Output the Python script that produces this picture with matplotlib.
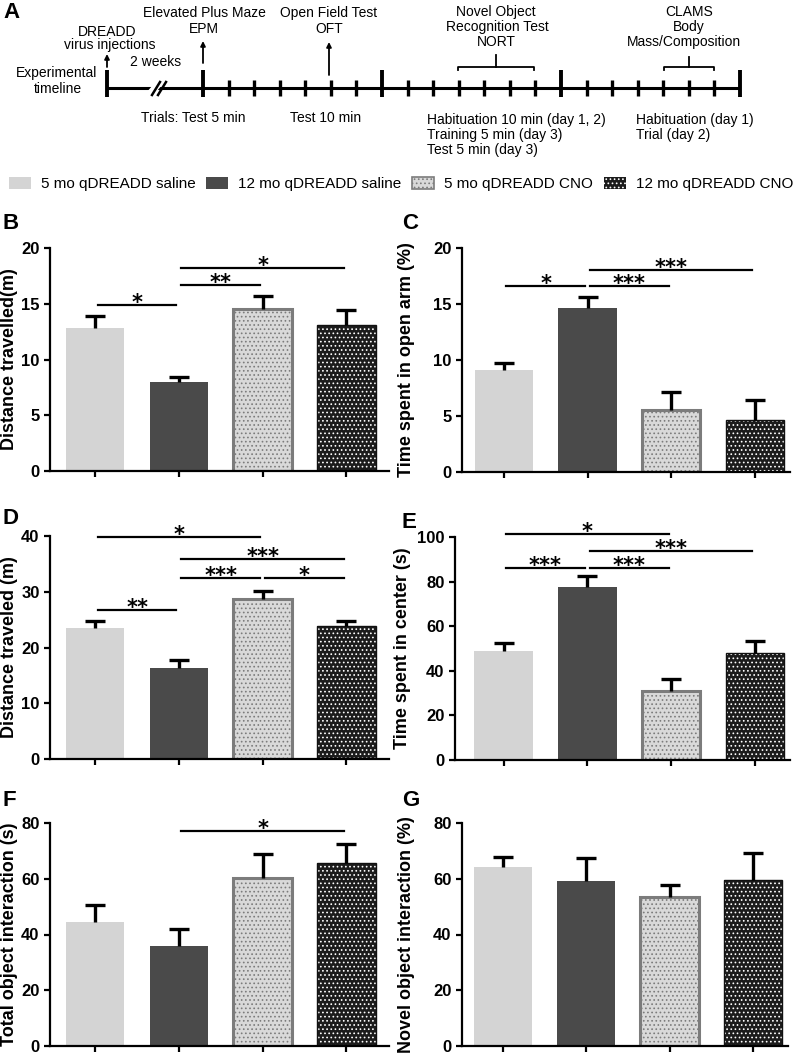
import matplotlib
matplotlib.use("Agg")
import matplotlib.pyplot as plt
from matplotlib.patches import Patch
import numpy as np

plt.rcParams['font.family'] = ['Liberation Sans', 'DejaVu Sans']
plt.rcParams['hatch.linewidth'] = 0.7

# Groups
groups = ['5 mo qDREADD saline', '12 mo qDREADD saline', '5 mo qDREADD CNO', '12 mo qDREADD CNO']

# Panel data (mean, sem)
b_mean = [12.8, 7.95, 14.5, 13.1]
b_sem = [1.1, 0.5, 1.2, 1.3]
c_mean = [9.1, 14.6, 5.5, 4.65]
c_sem = [0.65, 1.05, 1.6, 1.8]
d_mean = [23.5, 16.3, 28.7, 23.8]
d_sem = [1.3, 1.5, 1.4, 0.9]
e_mean = [48.9, 77.5, 30.9, 47.8]
e_sem = [3.4, 4.9, 5.3, 5.4]
f_mean = [44.4, 35.8, 60.2, 65.7]
f_sem = [6.2, 6.1, 8.6, 6.6]
g_mean = [64.1, 59.3, 53.4, 59.6]
g_sem = [3.8, 8.2, 4.3, 9.7]

# significance bars: (group i, group j, height, label)
b_sig = [(0, 1, 14.9, '*'), (1, 2, 16.7, '**'), (1, 3, 18.2, '*')]
c_sig = [(0, 1, 16.6, '*'), (1, 2, 16.6, '***'), (1, 3, 18.05, '***')]
d_sig = [(0, 2, 39.9, '*'), (1, 3, 35.9, '***'), (1, 2, 32.5, '***'),
         (2, 3, 32.5, '*'), (0, 1, 26.8, '**')]
e_sig = [(0, 2, 101.5, '*'), (1, 3, 93.9, '***'), (0, 1, 86.3, '***'), (1, 2, 86.3, '***')]
f_sig = [(1, 3, 77.1, '*')]
g_sig = []

W, H = 800, 1055
fig = plt.figure(figsize=(W / 100, H / 100), dpi=100)
fig.patch.set_facecolor('white')


def px_axes(left, right, top, bottom):
    return fig.add_axes([left / W, 1 - bottom / H, (right - left) / W, (bottom - top) / H])


def bar_panel(ax, means, sems, sig, yticks, ylabel, xlim, label_x):
    x = np.arange(4)
    means = np.array(means)
    sems = np.array(sems)
    ax.bar(x[0], means[0], width=0.7, color='#d4d4d4', lw=0)
    ax.bar(x[1], means[1], width=0.7, color='#4a4a4a', lw=0)
    ax.bar(x[2], means[2], width=0.7, facecolor='#d9d9d9', edgecolor='#7c7c7c',
           hatch='....', lw=2.2)
    ax.bar(x[3], means[3], width=0.7, facecolor='#1c1c1c', edgecolor='white',
           hatch='....', lw=0)
    ax.bar(x[3], means[3], width=0.7, fill=False, edgecolor='#111111', lw=1)
    eb = ax.errorbar(x, means, yerr=[np.zeros(4), sems], fmt='none', ecolor='black',
                     elinewidth=2.4, capsize=7, capthick=2.4, zorder=1)
    eb[1][0].set_visible(False)
    for i, j, y, lab in sig:
        ax.plot([i + 0.03, j - 0.03], [y, y], color='black', lw=1.6, clip_on=False)
        ax.annotate(lab, xy=((i + j) / 2, y), xytext=(0, -3), textcoords='offset points',
                    ha='center', va='baseline', fontsize=15, fontweight='bold',
                    family='DejaVu Sans', annotation_clip=False)
    ax.set_xlim(*xlim)
    ax.set_ylim(yticks[0], yticks[-1])
    ax.set_yticks(yticks)
    ax.set_xticks(x)
    ax.set_xticklabels([])
    for s in ['top', 'right']:
        ax.spines[s].set_visible(False)
    for s in ['left', 'bottom']:
        ax.spines[s].set_linewidth(1.6)
    ax.tick_params(axis='both', width=1.6, length=4, labelsize=12, direction='out')
    for t in ax.get_yticklabels():
        t.set_fontweight('bold')
    ax.set_ylabel(ylabel, fontsize=13, fontweight='bold')
    ax.yaxis.set_label_coords(label_x, 0.5)


axB = px_axes(50, 389, 248, 471)
bar_panel(axB, b_mean, b_sem, b_sig, [0, 5, 10, 15, 20], 'Distance travelled(m)', (-0.54, 3.51), -0.094)
axC = px_axes(462, 790, 248, 472)
bar_panel(axC, c_mean, c_sem, c_sig, [0, 5, 10, 15, 20], 'Time spent in open arm (%)', (-0.5, 3.42), -0.143)
axD = px_axes(50, 389, 536, 759)
bar_panel(axD, d_mean, d_sem, d_sig, [0, 10, 20, 30, 40], 'Distance traveled (m)', (-0.54, 3.51), -0.094)
axE = px_axes(455, 790, 537, 760)
bar_panel(axE, e_mean, e_sem, e_sig, [0, 20, 40, 60, 80, 100], 'Time spent in center (s)', (-0.58, 3.42), -0.131)
axF = px_axes(50, 389, 823, 1046)
bar_panel(axF, f_mean, f_sem, f_sig, [0, 20, 40, 60, 80], 'Total object interaction (s)', (-0.54, 3.51), -0.094)
axG = px_axes(462, 788, 823, 1046)
bar_panel(axG, g_mean, g_sem, g_sig, [0, 20, 40, 60, 80], 'Novel object interaction (%)', (-0.49, 3.42), -0.144)

# panel letters
for lab, xp, yp in [('A', 3, 2), ('B', 3, 213), ('C', 402, 213), ('D', 3, 508),
                    ('E', 402, 512), ('F', 3, 790), ('G', 402, 790)]:
    fig.text(xp / W, 1 - yp / H, lab, fontsize=16, fontweight='bold', ha='left', va='top')

# legend
handles = [Patch(facecolor='#d4d4d4', lw=0),
           Patch(facecolor='#4a4a4a', lw=0),
           Patch(facecolor='#d9d9d9', edgecolor='#7c7c7c', hatch='....', lw=1.2),
           Patch(facecolor='#1c1c1c', edgecolor='white', hatch='....', lw=0)]
fig.legend(handles, groups, ncol=4, loc='center', bbox_to_anchor=(401 / W, 1 - 184 / H),
           frameon=False, fontsize=11, handlelength=1.45, handleheight=0.8,
           handletextpad=0.65, columnspacing=0.7, borderaxespad=0, borderpad=0)

# timeline (panel A), drawn in pixel coordinates of the top strip
axA = fig.add_axes([0, 1 - 160 / H, 1, 160 / H])
axA.set_xlim(0, W)
axA.set_ylim(160, 0)
axA.axis('off')

line_y = 88
tl_start, tl_end = 107, 740
major_ticks = [107, 203, 382, 561, 740]
minor_ticks = [203 + k * (740 - 203) / 21 for k in range(22) if k % 7 != 0]

axA.plot([tl_start, tl_end], [line_y, line_y], color='black', lw=2.2, solid_capstyle='butt')
for xt in major_ticks:
    axA.plot([xt, xt], [70, 97], color='black', lw=2.8, solid_capstyle='butt')
for xt in minor_ticks:
    axA.plot([xt, xt], [80, 96], color='black', lw=2.4, solid_capstyle='butt')
# break marks
axA.plot([148, 161], [96, 81], color='white', lw=5)
axA.plot([152, 160], [95, 82], color='black', lw=1.8)
axA.plot([158, 166], [95, 82], color='black', lw=1.8)

for xa, y0, y1 in [(107, 67, 54), (203, 63, 41), (329, 75, 42)]:
    axA.annotate('', xy=(xa, y1), xytext=(xa, y0),
                 arrowprops=dict(arrowstyle='-|>', lw=1.3, color='black', mutation_scale=7,
                                 shrinkA=0, shrinkB=0))

# brackets
for x0, x1, y0 in [(458, 534, 55), (664, 714, 57)]:
    xm = (x0 + x1) / 2
    axA.plot([x0, x0, x1, x1], [70, 67, 67, 70], color='black', lw=1.3)
    axA.plot([xm, xm], [67, y0], color='black', lw=1.3)

fs = 10
txt = [
    ('DREADD', 107, 32, 'center'), ('virus injections', 110, 45, 'center'),
    ('2 weeks', 156, 62, 'center'), ('Experimental', 57, 73, 'center'),
    ('timeline', 58, 89, 'center'), ('Elevated Plus Maze', 204, 13, 'center'),
    ('EPM', 204, 29, 'center'), ('Open Field Test', 329, 13, 'center'),
    ('OFT', 329, 29, 'center'), ('Trials: Test 5 min', 193, 118, 'center'),
    ('Test 10 min', 326, 118, 'center'), ('Novel Object', 496, 12, 'center'),
    ('Recognition Test', 497, 27, 'center'), ('NORT', 496, 42, 'center'),
    ('CLAMS', 689, 12, 'center'), ('Body', 689, 27, 'center'),
    ('Mass/Composition', 684, 42, 'center'),
    ('Habituation 10 min (day 1, 2)', 427, 120, 'left'),
    ('Training 5 min (day 3)', 427, 135, 'left'),
    ('Test 5 min (day 3)', 427, 150, 'left'),
    ('Habituation (day 1)', 636, 120, 'left'),
    ('Trial (day 2)', 636, 135, 'left'),
]
for s, xt, yt, ha in txt:
    axA.text(xt, yt, s, fontsize=fs, ha=ha, va='center')

fig.savefig('out.png', dpi=100, facecolor='white')
